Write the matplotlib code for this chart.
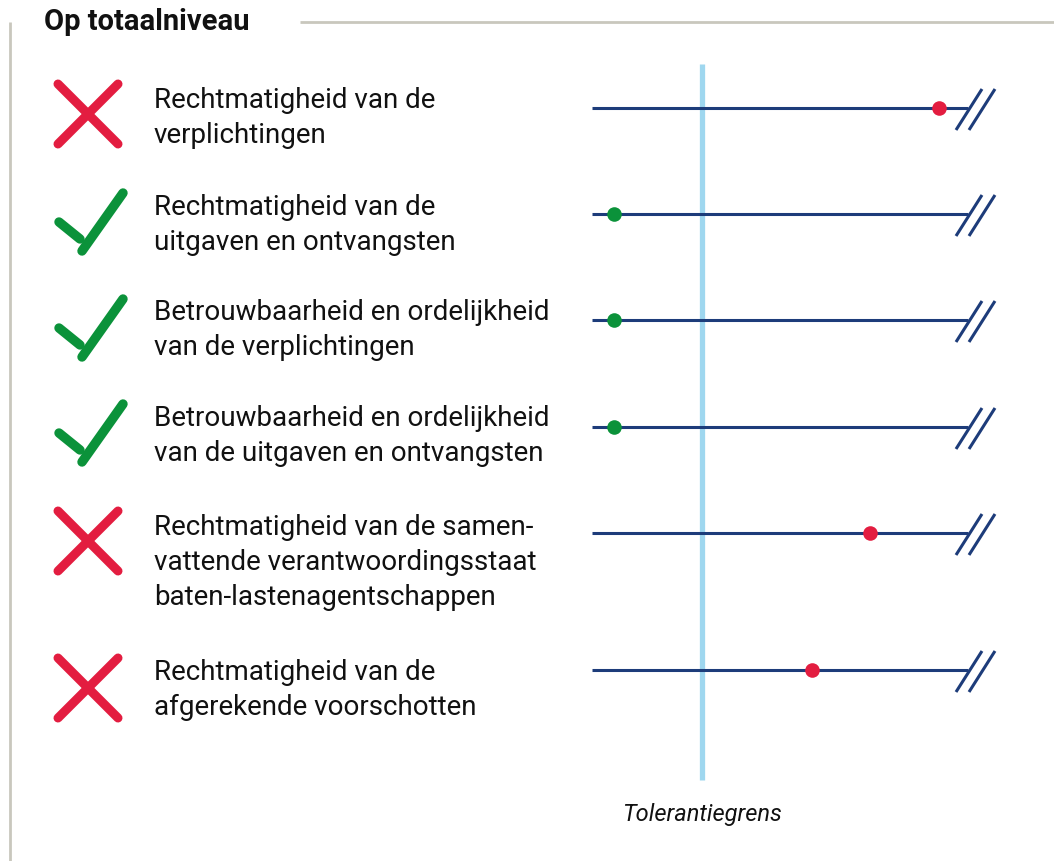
# toetsingsresultaten op totaalniveau, afwijking t.o.v. tolerantiegrens
import matplotlib.pyplot as plt

W, H = 1054, 861

labels = [
    'Rechtmatigheid van de\nverplichtingen',
    'Rechtmatigheid van de\nuitgaven en ontvangsten',
    'Betrouwbaarheid en ordelijkheid\nvan de verplichtingen',
    'Betrouwbaarheid en ordelijkheid\nvan de uitgaven en ontvangsten',
    'Rechtmatigheid van de samen-\nvattende verantwoordingsstaat\nbaten-lastenagentschappen',
    'Rechtmatigheid van de\nafgerekende voorschotten',
]
# fout als veelvoud van de tolerantiegrens (1.0)
values = [3.16, 0.2, 0.2, 0.2, 2.53, 2.0]
passed = [False, True, True, True, False, False]
tolerance = 1.0
scale_max = 3.42

# layout (pixels)
row_y = [108, 214, 320, 427, 533, 670]
text_y = [108, 215, 320, 426, 535, 680]   # first baseline
icon_y = [114, 221, 327, 432, 541, 688]
pitch = 35

navy = '#1d3c7a'
red = '#e31d40'
green = '#0b923a'
lightblue = '#9fd7ef'
grey = '#c9c7bd'

plt.rcParams['font.family'] = ['Roboto', 'DejaVu Sans']

fig = plt.figure(figsize=(W / 100, H / 100), dpi=100)

# pixel axes for frame, icons and texts
px = fig.add_axes([0, 0, 1, 1])
px.set_xlim(0, W)
px.set_ylim(H, 0)
px.axis('off')

# value axes: 0 at x=592, tolerance at x=702
x0, x1 = 592, 968
ax = fig.add_axes([x0 / W, 0, (x1 - x0) / W, 1])
ax.set_xlim(0, scale_max)
ax.set_ylim(H, 0)
ax.axis('off')

# frame
px.plot([10, 10], [22, H], color=grey, lw=2, solid_capstyle='butt')
px.plot([300, W], [22, 22], color=grey, lw=2, solid_capstyle='butt')
px.text(44, 22, 'Op totaalniveau', fontsize=21, fontweight='bold',
        va='center', ha='left', color='#111111')

# tolerance line
ax.plot([tolerance, tolerance], [64, 780], color=lightblue, lw=3.8,
        solid_capstyle='butt', zorder=1)
ax.text(tolerance, 814, 'Tolerantiegrens', fontsize=17, style='italic',
        ha='center', va='center', color='#111111')

for lab, v, ok, y, ty, iy in zip(labels, values, passed, row_y, text_y, icon_y):
    ax.plot([0, scale_max], [y, y], color=navy, lw=2.2, zorder=2,
            solid_capstyle='butt', clip_on=False)
    ax.plot([v], [y], 'o', color=red if not ok else green, ms=10.5,
            mec='none', zorder=3, clip_on=False)
    # break marks
    for dx in (-12, 1):
        px.plot([x1 + dx, x1 + dx + 26], [y + 22, y - 19], color=navy,
                lw=2.2, solid_capstyle='butt')
    # va='baseline' aligns the last line
    last_base = ty + pitch * lab.count('\n')
    px.text(154, last_base, lab, fontsize=20, va='baseline', ha='left',
            linespacing=1.37, color='#111111')
    cx = 88
    if ok:
        px.plot([cx - 29, cx - 8], [iy + 1, iy + 18], color=green, lw=6.8,
                solid_capstyle='round')
        px.plot([cx - 6, cx + 35], [iy + 30, iy - 28], color=green, lw=6.8,
                solid_capstyle='round')
    else:
        px.plot([cx - 30, cx + 30], [iy - 30, iy + 30], color=red, lw=6.5,
                solid_capstyle='round')
        px.plot([cx + 30, cx - 30], [iy - 30, iy + 30], color=red, lw=6.5,
                solid_capstyle='round')

fig.savefig('out.png', dpi=100)
